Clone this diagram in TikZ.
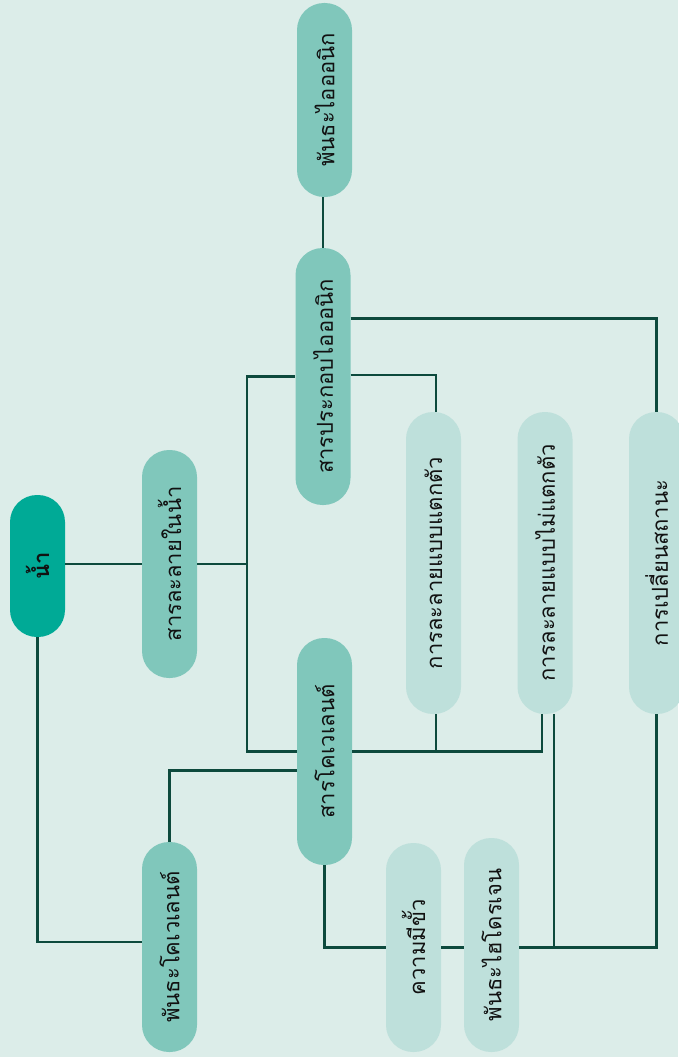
\documentclass[tikz,border=0pt]{standalone}
\usepackage{fontspec}
\newfontfamily\thaifont[Script=Thai]{Loma}
\definecolor{bg}{HTML}{DCEDE9}
\definecolor{rootc}{HTML}{00AA96}
\definecolor{lvone}{HTML}{80C7BB}
\definecolor{lvtwo}{HTML}{BEE0DB}
\definecolor{linec}{HTML}{0D4A3D}
\definecolor{txt}{HTML}{111111}
\tikzset{
  pill/.style={rectangle, rounded corners=27pt, minimum width=55pt, inner sep=0pt, text=txt, font=\thaifont\fontsize{22}{24}\selectfont},
  rootpill/.style={pill, fill=rootc, font=\thaifont\bfseries\fontsize{22}{24}\selectfont},
  onepill/.style={pill, fill=lvone},
  twopill/.style={pill, fill=lvtwo},
  conn/.style={draw=linec, line width=2.4pt}
}
\begin{document}
\begin{tikzpicture}[x=1pt,y=-1pt]
\fill[bg] (0,0) rectangle (678,1057);
\useasboundingbox (0,0) rectangle (678,1057);
% nodes
\node[rootpill, minimum height=142pt] (root) at (37.5,566) {\rotatebox{90}{น้ำ}};
\node[onepill, minimum height=228pt] (sol) at (169.5,564) {\rotatebox{90}{สารละลายในน้ำ}};
\node[onepill, minimum height=210pt] (covb) at (169.5,947) {\rotatebox{90}{พันธะโคเวเลนต์}};
\node[onepill, minimum height=194pt] (ionb) at (324.5,100) {\rotatebox{90}{พันธะไอออนิก}};
\node[onepill, minimum height=257pt] (ionc) at (323,376.5) {\rotatebox{90}{สารประกอบไอออนิก}};
\node[onepill, minimum height=227pt] (covs) at (324.5,751.5) {\rotatebox{90}{สารโคเวเลนต์}};
\node[twopill, minimum height=302pt] (diss) at (433.5,563) {\rotatebox{90}{การละลายแบบแตกตัว}};
\node[twopill, minimum height=302pt] (ndiss) at (545,563) {\rotatebox{90}{การละลายแบบไม่แตกตัว}};
\node[twopill, minimum height=302pt] (phase) at (656.5,563) {\rotatebox{90}{การเปลี่ยนสถานะ}};
\node[twopill, minimum height=209pt] (polar) at (413.5,947.5) {\rotatebox{90}{ความมีขั้ว}};
\node[twopill, minimum height=214pt] (hb) at (491.5,945) {\rotatebox{90}{พันธะไฮโดรเจน}};
% connectors
\draw[conn] (root.east |- sol.west) -- (sol.west);
\draw[conn] (root.south) |- ([yshift=5pt]covb.west);
\draw[conn] (sol.east) -- ++(50,0) coordinate (j1);
\draw[conn] (j1) |- (ionc.west);
\draw[conn] (j1) |- (covs.west);
\draw[conn] (ionc.north) -- (ionc.north |- ionb.south);
\draw[conn] ([yshift=1.5pt]ionc.east) -| ([xshift=2.5pt]diss.north);
\draw[conn] ([yshift=58pt]ionc.east) -| (phase.north);
\draw[conn] (covs.east) -| ([xshift=2.5pt]diss.south);
\draw[conn] (covs.east) -| ([xshift=-3pt]ndiss.south);
\draw[conn] (covb.north) |- ([yshift=-19pt]covs.west);
\draw[conn] (covs.south) |- (polar.west);
\draw[conn] (polar.east) -- (polar.east -| hb.west);
\draw[conn] (hb.east |- polar.east) -| (phase.south);
\draw[conn] ([xshift=9pt]ndiss.south) -- ([xshift=9pt]ndiss.south |- polar.east);
\end{tikzpicture}
\end{document}
